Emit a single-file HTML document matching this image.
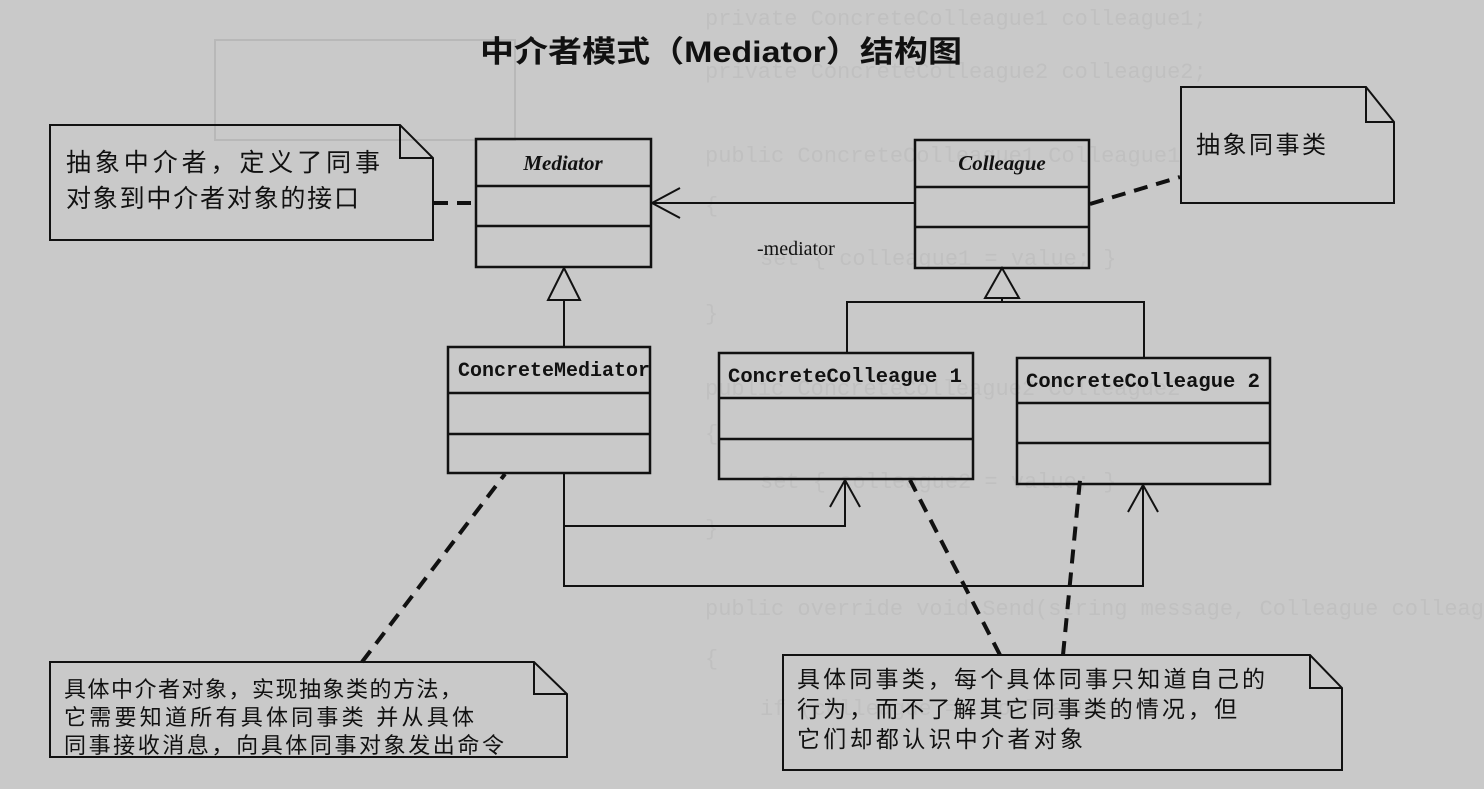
<!DOCTYPE html>
<html><head><meta charset="utf-8"><style>
html,body{margin:0;padding:0;background:#c9c9c9;}
svg{display:block}
text{font-family:"Liberation Serif","Noto Serif CJK SC",serif;fill:#111}
text.cn{font-family:"Liberation Sans","Noto Sans CJK SC",sans-serif;}
text.mono{font-family:"Liberation Mono",monospace;}
text.faint{font-family:"Liberation Mono",monospace;fill:#c0c0c0;font-size:22px}
</style></head><body>
<svg width="1484" height="789" viewBox="0 0 1484 789" xmlns="http://www.w3.org/2000/svg">
<rect width="1484" height="789" fill="#c9c9c9"/>
<text class="faint" x="705" y="25">private ConcreteColleague1 colleague1;</text>
<text class="faint" x="705" y="78">private ConcreteColleague2 colleague2;</text>
<text class="faint" x="705" y="162">public ConcreteColleague1 Colleague1</text>
<text class="faint" x="705" y="212">{</text>
<text class="faint" x="760" y="265">set { colleague1 = value; }</text>
<text class="faint" x="705" y="320">}</text>
<text class="faint" x="705" y="395">public ConcreteColleague2 Colleague2</text>
<text class="faint" x="705" y="440">{</text>
<text class="faint" x="760" y="488">set { colleague2 = value; }</text>
<text class="faint" x="705" y="535">}</text>
<text class="faint" x="705" y="615">public override void Send(string message, Colleague colleague)</text>
<text class="faint" x="705" y="665">{</text>
<text class="faint" x="760" y="715">if (colleague == colleague1)</text>
<g fill="none" stroke="#b8b8b8" stroke-width="2"><rect x="215" y="40" width="300" height="100"/></g>
<text x="480" y="62" class="cn" font-size="30" font-weight="bold" textLength="482" lengthAdjust="spacingAndGlyphs">中介者模式（Mediator）结构图</text>

<g fill="none" stroke="#111" stroke-width="2.5">
<rect x="476" y="139" width="175" height="128"/>
<line x1="476" y1="186" x2="651" y2="186"/><line x1="476" y1="226" x2="651" y2="226"/>
<rect x="915" y="140" width="174" height="128"/>
<line x1="915" y1="187" x2="1089" y2="187"/><line x1="915" y1="227" x2="1089" y2="227"/>
<rect x="448" y="347" width="202" height="126"/>
<line x1="448" y1="393" x2="650" y2="393"/><line x1="448" y1="434" x2="650" y2="434"/>
<rect x="719" y="353" width="254" height="126"/>
<line x1="719" y1="398" x2="973" y2="398"/><line x1="719" y1="439" x2="973" y2="439"/>
<rect x="1017" y="358" width="253" height="126"/>
<line x1="1017" y1="403" x2="1270" y2="403"/><line x1="1017" y1="443" x2="1270" y2="443"/>
</g>
<g fill="none" stroke="#111" stroke-width="2">
<polygon points="564,268 548,300 580,300"/>
<line x1="564" y1="300" x2="564" y2="347"/>
<polygon points="1002,268 985,298 1019,298"/>
<polyline points="847,353 847,302 1144,302 1144,358"/>
<line x1="1002" y1="298" x2="1002" y2="302"/>
<line x1="651" y1="203" x2="915" y2="203"/>
<polyline points="680,188 652,203 680,218"/>
<polyline points="564,473 564,526 845,526 845,480"/>
<polyline points="830,507 845,480 860,507"/>
<polyline points="564,526 564,586 1143,586 1143,485"/>
<polyline points="1128,512 1143,485 1158,512"/>
<path d="M50,125 H400 L433,158 V240 H50 Z"/><polyline points="400,125 400,158 433,158"/>
<path d="M1181,87 H1366 L1394,122 V203 H1181 Z"/><polyline points="1366,87 1366,122 1394,122"/>
<path d="M50,662 H534 L567,694 V757 H50 Z"/><polyline points="534,662 534,694 567,694"/>
<path d="M783,655 H1310 L1342,688 V770 H783 Z"/><polyline points="1310,655 1310,688 1342,688"/>
</g>
<g stroke="#111" stroke-width="4" stroke-dasharray="14,9" fill="none">
<line x1="434" y1="203" x2="476" y2="203"/>
<line x1="1090" y1="204" x2="1180" y2="177"/>
<line x1="362" y1="662" x2="505" y2="474"/>
<line x1="1000" y1="655" x2="910" y2="480"/>
<line x1="1063" y1="655" x2="1080" y2="480"/>
</g>
<text x="563" y="170" text-anchor="middle" font-size="21" font-style="italic" font-weight="bold">Mediator</text>
<text x="1002" y="170" text-anchor="middle" font-size="21" font-style="italic" font-weight="bold">Colleague</text>
<text x="757" y="255" font-size="20">-mediator</text>
<text x="458" y="376" font-size="20" class="mono" font-weight="bold" textLength="192" lengthAdjust="spacingAndGlyphs">ConcreteMediator</text>
<text x="728" y="382" font-size="20" class="mono" font-weight="bold" textLength="234" lengthAdjust="spacingAndGlyphs">ConcreteColleague 1</text>
<text x="1026" y="387" font-size="20" class="mono" font-weight="bold" textLength="234" lengthAdjust="spacingAndGlyphs">ConcreteColleague 2</text>
<text x="66" y="171" class="cn" font-size="25" textLength="314" lengthAdjust="spacing">抽象中介者，定义了同事</text>
<text x="66" y="207" class="cn" font-size="25" textLength="293" lengthAdjust="spacing">对象到中介者对象的接口</text>
<text x="1196" y="153" class="cn" font-size="24" textLength="130" lengthAdjust="spacing">抽象同事类</text>
<text x="64" y="697" class="cn" font-size="22" textLength="398" lengthAdjust="spacing">具体中介者对象，实现抽象类的方法，</text>
<text x="64" y="725" class="cn" font-size="22" textLength="410" lengthAdjust="spacing">它需要知道所有具体同事类 并从具体</text>
<text x="64" y="753" class="cn" font-size="22" textLength="440" lengthAdjust="spacing">同事接收消息，向具体同事对象发出命令</text>
<text x="797" y="687" class="cn" font-size="23" textLength="468" lengthAdjust="spacing">具体同事类，每个具体同事只知道自己的</text>
<text x="797" y="717" class="cn" font-size="23" textLength="440" lengthAdjust="spacing">行为，而不了解其它同事类的情况，但</text>
<text x="797" y="747" class="cn" font-size="23" textLength="286" lengthAdjust="spacing">它们却都认识中介者对象</text>
</svg>
</body></html>
